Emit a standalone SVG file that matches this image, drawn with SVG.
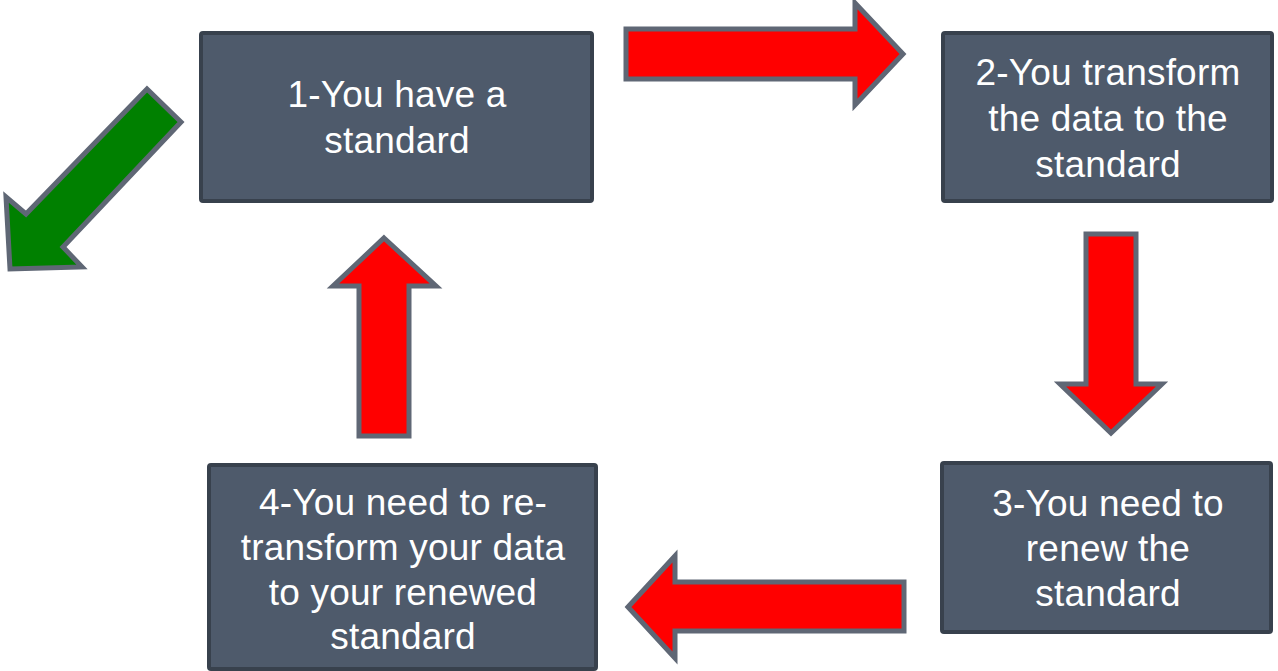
<svg xmlns="http://www.w3.org/2000/svg" width="1278" height="671" viewBox="0 0 1278 671">
<style>
.box{fill:#4e5a6b;stroke:#38414d;stroke-width:4}
.lbl{font-family:"Liberation Sans",Arial,sans-serif;font-size:37px;letter-spacing:0.2px;fill:#ffffff;text-anchor:middle}
.red{fill:#ff0000;stroke:#5f6775;stroke-width:5;stroke-linejoin:miter}
.green{fill:#008000;stroke:#5f6775;stroke-width:5;stroke-linejoin:miter}
</style>
<rect width="1278" height="671" fill="#ffffff"/>
<g id="connectors">
<polygon class="red" points="626,29 855,29 855,3 903,54 855,105 855,79 626,79"/>
<polygon class="red" points="1086,234 1136,234 1136,384 1162,384 1111,433 1060,384 1086,384"/>
<polygon class="red" points="628,607 675,556 675,582 904,582 904,631 675,631 675,658"/>
<polygon class="red" points="384,238 436,286 409,286 409,436 359,436 359,286 333,286"/>
<polygon class="green" points="147,89 181,122 63,247 82,267 10,269 6,197 26,214"/>
</g>
<g id="node1">
<rect class="box" x="201" y="33" width="391" height="168" rx="2"/>
<text class="lbl" x="397" y="107">1-You have a</text>
<text class="lbl" x="397" y="153">standard</text>
</g>
<g id="node2">
<rect class="box" x="943" y="33" width="329" height="168" rx="2"/>
<text class="lbl" x="1108" y="85">2-You transform</text>
<text class="lbl" x="1108" y="131">the data to the</text>
<text class="lbl" x="1108" y="177">standard</text>
</g>
<g id="node3">
<rect class="box" x="942" y="463" width="329" height="169" rx="2"/>
<text class="lbl" x="1108" y="516">3-You need to</text>
<text class="lbl" x="1108" y="561">renew the</text>
<text class="lbl" x="1108" y="606">standard</text>
</g>
<g id="node4">
<rect class="box" x="209" y="465" width="387" height="204" rx="2"/>
<text class="lbl" x="403" y="515">4-You need to re-</text>
<text class="lbl" x="403" y="560">transform your data</text>
<text class="lbl" x="403" y="605">to your renewed</text>
<text class="lbl" x="403" y="649">standard</text>
</g>
</svg>
